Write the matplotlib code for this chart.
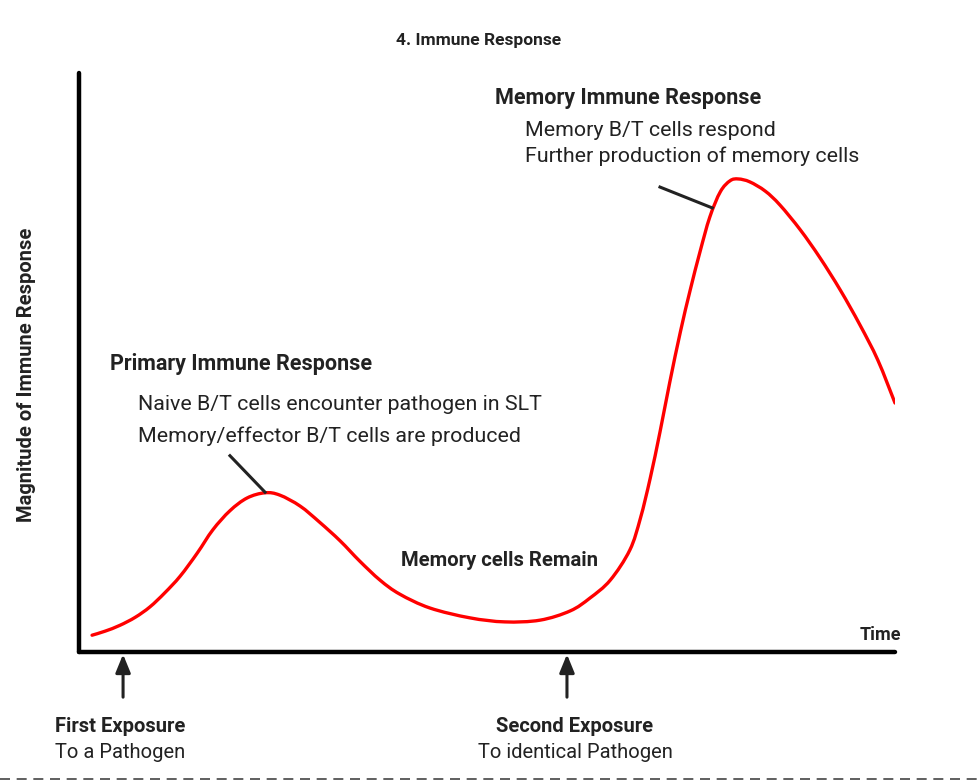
import numpy as np
import matplotlib.pyplot as plt
from matplotlib.path import Path
from matplotlib.patches import PathPatch

plt.rcParams['font.family'] = ['Roboto', 'DejaVu Sans']

# curve (time 0-100, magnitude 0-100)
time = [1.6, 3.2, 5.0, 6.9, 8.7, 10.5, 12.4, 14.5, 16.4, 18.5, 20.6, 22.8, 24.6, 27.1,
        29.5, 32.0, 34.4, 36.9, 39.3, 43.0, 47.9, 52.2, 56.5, 60.2, 62.6, 65.1, 67.5,
        68.8, 70.0, 71.2, 72.4, 73.7, 74.9, 76.1, 77.3, 78.6, 79.8, 80.8, 82.2, 84.1,
        85.9, 88.4, 90.8, 93.3, 95.7, 97.9, 100.0]
magnitude = [2.9, 3.6, 4.6, 6.0, 7.8, 10.2, 13.1, 17.1, 21.1, 24.4, 26.6, 27.5, 27.1, 25.2,
             22.4, 19.2, 15.7, 12.4, 10.0, 7.6, 5.9, 5.2, 5.5, 7.1, 9.3, 12.4, 17.6,
             23.1, 30.0, 38.0, 46.6, 55.3, 62.5, 69.1, 75.1, 79.5, 81.4, 81.7, 81.2, 79.6,
             77.2, 72.9, 68.1, 62.5, 56.5, 50.4, 43.0]
exposures = [5.4, 59.8]

W, H = 979, 783
fig = plt.figure(figsize=(W / 100, H / 100), dpi=100)
ax = fig.add_axes([79 / W, 1 - 652 / H, 816 / W, 579 / H])
ax.set_xlim(0, 100)
ax.set_ylim(0, 100)

# smooth curve through the read points (Catmull-Rom as cubic Bezier)
P = np.column_stack([time, magnitude])
n = len(P)
verts = [P[0]]
codes = [Path.MOVETO]
for i in range(n - 1):
    p0 = P[i - 1] if i > 0 else P[i]
    p1, p2 = P[i], P[i + 1]
    p3 = P[i + 2] if i + 2 < n else P[i + 1]
    verts += [p1 + (p2 - p0) / 6, p2 - (p3 - p1) / 6, p2]
    codes += [Path.CURVE4] * 3
ax.add_patch(PathPatch(Path(verts, codes), facecolor='none', edgecolor='#ff0000', lw=2.4,
                       capstyle='round', joinstyle='round'))

for s in ['top', 'right']:
    ax.spines[s].set_visible(False)
for s in ['left', 'bottom']:
    ax.spines[s].set_linewidth(3.2)
    ax.spines[s].set_color('black')
    ax.spines[s].set_capstyle('round')
ax.set_xticks([])
ax.set_yticks([])

# leader lines
ax.plot([18.5, 22.8], [33.9, 27.6], color='#222222', lw=2.2)
ax.plot([71.2, 77.6], [80.3, 76.7], color='#222222', lw=2.2)

# exposure arrows under the axis
for x in exposures:
    ax.annotate('', xy=(x, -0.4), xytext=(x, -7.8), xycoords='data', annotation_clip=False,
                arrowprops=dict(arrowstyle='-|>,head_length=1.1,head_width=0.45',
                                color='#222222', lw=2.2, shrinkA=0, shrinkB=0))

def px(x, y):
    return x / W, 1 - y / H

dark = '#222222'
fig.text(*px(479, 41), '4. Immune Response', ha='center', va='center', fontsize=12.5,
         fontweight='bold', color=dark)
fig.text(*px(27, 375), 'Magnitude of Immune Response', ha='center', va='center', rotation=90,
         fontsize=14.5, fontweight='bold', color=dark)
fig.text(*px(880, 635), 'Time', ha='center', va='center', fontsize=13, fontweight='bold',
         color=dark)

fig.text(*px(495, 98), 'Memory Immune Response', ha='left', va='center', fontsize=15.5,
         fontweight='bold', color=dark)
fig.text(*px(525, 130), 'Memory B/T cells respond', ha='left', va='center', fontsize=15.4,
         color=dark)
fig.text(*px(525, 156), 'Further production of memory cells', ha='left', va='center',
         fontsize=15.4, color=dark)

fig.text(*px(110, 364), 'Primary Immune Response', ha='left', va='center', fontsize=15.5,
         fontweight='bold', color=dark)
fig.text(*px(138, 405), 'Naive B/T cells encounter pathogen in SLT', ha='left', va='center',
         fontsize=15.4, color=dark)
fig.text(*px(138, 436), 'Memory/effector B/T cells are produced', ha='left', va='center',
         fontsize=15.4, color=dark)

fig.text(*px(401, 561), 'Memory cells Remain', ha='left', va='center', fontsize=14.6,
         fontweight='bold', color=dark)

fig.text(*px(55, 727), 'First Exposure', ha='left', va='center', fontsize=14.5,
         fontweight='bold', color=dark)
fig.text(*px(55, 753), 'To a Pathogen', ha='left', va='center', fontsize=14.5, color=dark)
fig.text(*px(575, 727), 'Second Exposure', ha='center', va='center', fontsize=14.5,
         fontweight='bold', color=dark)
fig.text(*px(575, 753), 'To identical Pathogen', ha='center', va='center', fontsize=14.5,
         color=dark)

# dashed border line at the bottom
fig.add_artist(plt.Line2D([0, 1], [1 - 779 / H, 1 - 779 / H], transform=fig.transFigure,
                          color='#444444', lw=1.2, linestyle=(0, (6, 4))))

fig.savefig('out.png', dpi=100)
